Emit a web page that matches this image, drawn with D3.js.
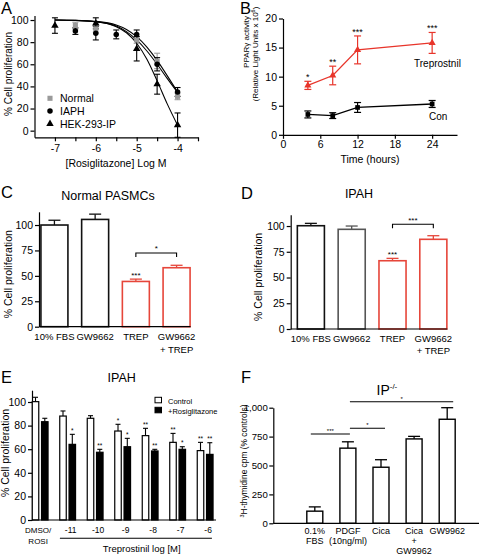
<!DOCTYPE html>
<html><head><meta charset="utf-8">
<script src="https://cdn.jsdelivr.net/npm/d3@7"></script>
<style>
body{margin:0;background:#fff}
svg{display:block}
</style></head><body>
<svg id="c" width="480" height="555"></svg>
<script>
const FONT = 'Arial, "Liberation Sans", Helvetica, sans-serif';

// ---------- Panel A ----------
const doseA = [-7, -6.5, -6, -5.5, -5, -4.5, -4];
const normalA = [null, 95, 92, null, 82, 63, 31];
const normalErrA = [null, 3, 3, null, 3, 7, 3];
const iaphA = [null, 90, 88, 87, 87, 60, 35];
const iaphErrA = [null, 3, 6, 4, 4, 6, 4];
const hekA = [95, null, 97, null, 74, 42, 5];
const hekErrA = [7, null, 5, null, 11, 9, 11];
const fitDoseA = [-7, -6.5, -6, -5.5, -5.25, -5, -4.75, -4.5, -4.25, -4];
const fitNormalA = [100, 99.7, 98.8, 95.5, 91.5, 85, 75.5, 63.5, 49.5, 35];
const fitIaphA = [100, 99.6, 98.5, 94.5, 89.5, 82, 72, 60, 47, 34.5];
const fitHekA = [100, 99.7, 98.5, 94, 88.5, 79, 64.5, 45, 24, 5];
const yTicksA = [0, 20, 40, 60, 80, 100];
const xTicksA = [-7, -6.5, -6, -5.5, -5, -4.5, -4, -3.5];
const legendA = ['Normal', 'IAPH', 'HEK-293-IP'];

// ---------- Panel B ----------
const timeB = [4, 8, 12, 24];
const trepB = [8.5, 10.2, 14.6, 15.8];
const trepErrB = [0.7, 1.6, 2.4, 1.8];
const conB = [3.5, 3.3, 4.7, 5.3];
const conErrB = [0.6, 0.5, 0.85, 0.6];
const starsB = ['*', '**', '***', '***'];
const yTicksB = [0, 5, 10, 15, 20];
const xTicksB = [0, 6, 12, 18, 24];

// ---------- Panel C ----------
const catsC = ['10% FBS', 'GW9662', 'TREP', 'GW9662 + TREP'];
const linesC = [['10% FBS'], ['GW9662'], ['TREP'], ['GW9662', '+ TREP']];
const valC = [100, 105.5, 44.5, 58];
const errC = [4.7, 5.2, 2.3, 2.4];
const yTicksC = [0, 25, 50, 75, 100];

// ---------- Panel D ----------
const catsD = ['10% FBS', 'GW9662', 'TREP', 'GW9662 + TREP'];
const linesD = [['10% FBS'], ['GW9662'], ['TREP'], ['GW9662', '+ TREP']];
const valD = [100.3, 96.8, 66.3, 87.1];
const errD = [2.3, 3.2, 2.3, 3.5];
const yTicksD = [0, 25, 50, 75, 100];

// ---------- Panel E ----------
const groupsE = ['DMSO/ROSI', '-11', '-10', '-9', '-8', '-7', '-6'];
const ctrlE = [100.3, 88.1, 86.2, 75.4, 71.5, 65.8, 58.8];
const ctrlErrE = [3.7, 4.3, 2.2, 5.7, 6.2, 7.6, 7.0];
const rosiE = [83.3, 64.1, 57.4, 62.1, 58.5, 59.9, 55.6];
const rosiErrE = [2.9, 8.5, 2.5, 7.1, 1.4, 2.2, 9.9];
const ctrlStarsE = ['', '', '', '*', '**', '**', '**'];
const rosiStarsE = ['', '*', '**', '*', '**', '*', '**'];
const yTicksE = [0, 20, 40, 60, 80, 100];

// ---------- Panel F ----------
const catsF = ['0.1% FBS', 'PDGF (10ng/ml)', 'Cica', 'Cica + GW9962', 'GW9962'];
const linesF = [['0.1%', 'FBS'], ['PDGF', '(10ng/ml)'], ['Cica'], ['Cica', '+', 'GW9962'], ['GW9962']];
const valF = [105, 650, 485, 730, 900];
const errF = [37, 55, 65, 22, 100];
const yTicksF = [0, 250, 500, 750, 1000];

const svg = d3.select('#c');

function styleAxis(g, fs) {
  g.attr('font-family', FONT).attr('font-size', fs);
  g.select('.domain').attr('stroke', '#000').attr('stroke-width', 1.2);
  g.selectAll('.tick line').attr('stroke', '#000').attr('stroke-width', 1.2);
  g.selectAll('.tick text').attr('fill', '#000');
}
function txt(x, y, s, fs, anchor) {
  return svg.append('text').attr('x', x).attr('y', y).attr('font-family', FONT)
    .attr('font-size', fs).attr('text-anchor', anchor || 'start').attr('fill', '#000').text(s);
}
function vlabel(x, y, s, fs) {
  return svg.append('text').attr('transform', `translate(${x},${y}) rotate(-90)`)
    .attr('font-family', FONT).attr('font-size', fs).attr('text-anchor', 'middle').attr('fill', '#000').text(s);
}
function errBar(g, x, y1, y2, half, color, w) {
  g.append('line').attr('x1', x).attr('x2', x).attr('y1', y1).attr('y2', y2).attr('stroke', color).attr('stroke-width', w || 1.2);
  g.append('line').attr('x1', x - half).attr('x2', x + half).attr('y1', y2).attr('y2', y2).attr('stroke', color).attr('stroke-width', w || 1.2);
}

// panel letters
[['A', 1, 13.5], ['B', 240, 13.5], ['C', 1, 198], ['D', 241, 199], ['E', 1, 383], ['F', 241, 383]]
  .forEach(([l, x, y]) => txt(x, y, l, 16.5));

// =============== A ===============
{
  const x = d3.scaleLinear().domain([-7.5, -3.5]).range([34.5, 198]);
  const y = d3.scaleLinear().domain([-6, 104]).range([137.3, 15.6]);
  const g = svg.append('g');
  styleAxis(g.append('g').attr('transform', 'translate(34.5,0)')
    .call(d3.axisLeft(y).tickValues(yTicksA).tickSize(4).tickSizeOuter(0).tickPadding(2)), 10.5);
  styleAxis(g.append('g').attr('transform', 'translate(0,137.3)')
    .call(d3.axisBottom(x).tickValues(xTicksA).tickSize(4).tickSizeOuter(0).tickPadding(3)
      .tickFormat(d => Number.isInteger(d) ? String(d) : '')), 10.5);
  const line = d3.line().x(d => x(d[0])).y(d => y(d[1])).curve(d3.curveMonotoneX);
  [fitNormalA, fitIaphA, fitHekA].forEach(arr => {
    g.append('path').attr('d', line(fitDoseA.map((d, i) => [d, arr[i]])))
      .attr('fill', 'none').attr('stroke', '#000').attr('stroke-width', 1.1);
  });
  const series = [
    {v: normalA, e: normalErrA, c: '#9a9a9a', s: d3.symbolSquare, size: 26},
    {v: iaphA, e: iaphErrA, c: '#000', s: d3.symbolCircle, size: 24},
    {v: hekA, e: hekErrA, c: '#000', s: d3.symbolTriangle, size: 24}
  ];
  series.forEach(sr => {
    doseA.forEach((d, i) => {
      if (sr.v[i] == null) return;
      errBar(g, x(d), y(sr.v[i] - sr.e[i]), y(sr.v[i] + sr.e[i]), 3, sr.c, 1.1);
      g.append('line').attr('x1', x(d) - 3).attr('x2', x(d) + 3)
        .attr('y1', y(sr.v[i] - sr.e[i])).attr('y2', y(sr.v[i] - sr.e[i])).attr('stroke', sr.c).attr('stroke-width', 1.1);
    });
  });
  series.forEach(sr => {
    doseA.forEach((d, i) => {
      if (sr.v[i] == null) return;
      g.append('path').attr('d', d3.symbol(sr.s, sr.size)())
        .attr('transform', `translate(${x(d)},${y(sr.v[i])})`).attr('fill', sr.c);
    });
  });
  series.forEach((sr, i) => {
    const ly = 98.3 + i * 12.8;
    g.append('path').attr('d', d3.symbol(sr.s, sr.size)()).attr('transform', `translate(50,${ly})`).attr('fill', sr.c);
    txt(60, ly + 3.8, legendA[i], 10.5);
  });
  vlabel(11.5, 74, '% Cell proliferation', 10);
  txt(116, 167, '[Rosiglitazone] Log M', 10.5, 'middle');
}

// =============== B ===============
{
  const x = d3.scaleLinear().domain([0, 28]).range([283, 457]);
  const y = d3.scaleLinear().domain([0, 20]).range([134.8, 18.5]);
  const g = svg.append('g');
  styleAxis(g.append('g').attr('transform', 'translate(283,0)')
    .call(d3.axisLeft(y).tickValues(yTicksB).tickSize(4).tickSizeOuter(0).tickPadding(2)), 10.5);
  styleAxis(g.append('g').attr('transform', 'translate(0,134.8)')
    .call(d3.axisBottom(x).tickValues(xTicksB).tickSize(4).tickSizeOuter(0).tickPadding(2)), 10.5);
  const red = '#e8352b';
  const line = d3.line().x(d => x(d[0])).y(d => y(d[1]));
  [[trepB, trepErrB, red, d3.symbolTriangle], [conB, conErrB, '#000', d3.symbolSquare]].forEach(([v, e, c, s]) => {
    g.append('path').attr('d', line(timeB.map((t, i) => [t, v[i]]))).attr('fill', 'none').attr('stroke', c).attr('stroke-width', 1.3);
    timeB.forEach((t, i) => {
      errBar(g, x(t), y(v[i] - e[i]), y(v[i] + e[i]), 3.5, c, 1.2);
      g.append('line').attr('x1', x(t) - 3.5).attr('x2', x(t) + 3.5).attr('y1', y(v[i] - e[i])).attr('y2', y(v[i] - e[i])).attr('stroke', c).attr('stroke-width', 1.2);
      g.append('path').attr('d', d3.symbol(s, 22)()).attr('transform', `translate(${x(t)},${y(v[i])})`).attr('fill', c);
    });
  });
  timeB.forEach((t, i) => txt(x(t), y(trepB[i] + trepErrB[i]) - 1, starsB[i], 9, 'middle'));
  txt(414, 66.5, 'Treprostnil', 10);
  txt(429, 119.5, 'Con', 10);
  txt(370, 163, 'Time (hours)', 10.5, 'middle');
  vlabel(248.5, 42, 'PPARγ activity', 8);
  const t2 = svg.append('text').attr('transform', 'translate(257.5,54) rotate(-90)')
    .attr('font-family', FONT).attr('font-size', 8).attr('text-anchor', 'middle').attr('fill', '#000');
  t2.append('tspan').text('(Relative Light Units x 10');
  t2.append('tspan').attr('dy', -3).attr('font-size', 5.5).text('6');
  t2.append('tspan').attr('dy', 3).text(')');
}

// =============== C & D ===============
function barPanel(cfg) {
  const x = d3.scaleBand().domain(cfg.cats).range(cfg.xr).paddingInner(0.337).paddingOuter(0.17);
  const y = d3.scaleLinear().domain(cfg.yd).range(cfg.yr);
  const g = svg.append('g');
  styleAxis(g.append('g').attr('transform', `translate(${cfg.ax},0)`)
    .call(d3.axisLeft(y).tickValues(cfg.ticks).tickSize(4).tickSizeOuter(0).tickPadding(2)), 10.5);
  cfg.cats.forEach((c, i) => {
    const cx = x(c) + x.bandwidth() / 2;
    errBar(g, cx, y(cfg.val[i]), y(cfg.val[i] + cfg.err[i]), 6, cfg.stroke[i], 1.3);
    g.append('rect').attr('x', x(c)).attr('y', y(cfg.val[i])).attr('width', x.bandwidth())
      .attr('height', y(0) - y(cfg.val[i])).attr('fill', '#fff').attr('stroke', cfg.stroke[i]).attr('stroke-width', 1.6);
    cfg.lines[i].forEach((l, j) => txt(cx, cfg.ly + j * 12.5, l, 9.5, 'middle'));
  });
  g.append('line').attr('x1', cfg.ax).attr('x2', x(cfg.cats[3]) + x.bandwidth() + 0.5)
    .attr('y1', y(0)).attr('y2', y(0)).attr('stroke', '#000').attr('stroke-width', 1.2);
  const c2 = x(cfg.cats[2]) + x.bandwidth() / 2, c3 = x(cfg.cats[3]) + x.bandwidth() / 2;
  txt(c2, y(cfg.val[2] + cfg.err[2]) - 1, '***', 8, 'middle');
  const by = y(cfg.bracket);
  g.append('path').attr('d', `M${c2},${by + 4}V${by}H${c3}V${by + 4}`).attr('fill', 'none').attr('stroke', '#000').attr('stroke-width', 1.1);
  txt((c2 + c3) / 2, by - 1.5, cfg.bstar, 8, 'middle');
  txt(cfg.tx, cfg.ty, cfg.title, 12.5, 'middle');
  vlabel(cfg.vlx, (cfg.yr[0] + cfg.yr[1]) / 2 + 5, '% Cell proliferation', 10.5);
}
const red = '#e6463a';
barPanel({cats: catsC, lines: linesC, val: valC, err: errC, ticks: yTicksC, xr: [34, 197], ax: 39,
  yd: [0, 113], yr: [326.7, 211.8], stroke: ['#111', '#111', red, red], ly: 340, bracket: 72.5, bstar: '*',
  title: 'Normal PASMCs', tx: 108, ty: 200, vlx: 12});
barPanel({cats: catsD, lines: linesD, val: valD, err: errD, ticks: yTicksD, xr: [290.4, 453.8], ax: 290.7,
  yd: [0, 111], yr: [329, 214.7], stroke: ['#111', '#555', red, red], ly: 341.5, bracket: 101.7, bstar: '***',
  title: 'IPAH', tx: 359, ty: 198, vlx: 262});

// =============== E ===============
{
  const x0 = d3.scaleBand().domain(groupsE).range([26.4, 218.9]);
  const x1 = d3.scaleBand().domain(['c', 'r']).range([5.85, 21.65]).paddingInner(0.3);
  const y = d3.scaleLinear().domain([0, 110]).range([520, 390.2]);
  const g = svg.append('g');
  styleAxis(g.append('g').attr('transform', 'translate(32,0)')
    .call(d3.axisLeft(y).tickValues(yTicksE).tickSize(4).tickSizeOuter(0).tickPadding(2)), 10.5);
  groupsE.forEach((gr, i) => {
    [['c', ctrlE, ctrlErrE, ctrlStarsE, '#fff'], ['r', rosiE, rosiErrE, rosiStarsE, '#000']].forEach(([k, v, e, st, fill]) => {
      const bx = x0(gr) + x1(k), cx = bx + x1.bandwidth() / 2;
      errBar(g, cx, y(v[i]), y(v[i] + e[i]), 2.5, '#000', 1.1);
      g.append('rect').attr('x', bx).attr('y', y(v[i])).attr('width', x1.bandwidth()).attr('height', y(0) - y(v[i]))
        .attr('fill', fill).attr('stroke', '#000').attr('stroke-width', 1.2);
      if (st[i]) txt(cx, y(v[i] + e[i]) - 1.5, st[i], 6.5, 'middle');
    });
    const gc = x0(gr) + x0.bandwidth() / 2;
    if (i === 0) { txt(gc - 2, 533, 'DMSO/', 8, 'middle'); txt(gc - 2, 544, 'ROSI', 8, 'middle'); }
    else txt(gc + 3, 533, gr, 8.5, 'middle');
  });
  g.append('line').attr('x1', 32).attr('x2', 216).attr('y1', 520).attr('y2', 520).attr('stroke', '#000').attr('stroke-width', 1.2);
  g.append('line').attr('x1', x0(groupsE[1]) + 6).attr('x2', x0(groupsE[6]) + x0.bandwidth() - 7)
    .attr('y1', 538.3).attr('y2', 538.3).attr('stroke', '#000').attr('stroke-width', 1.1);
  txt(141.7, 552, 'Treprostinil log [M]', 9.5, 'middle');
  txt(121.7, 381.5, 'IPAH', 12.5, 'middle');
  vlabel(9, 453, '% Cell proliferation', 10.5);
  g.append('rect').attr('x', 155).attr('y', 397.3).attr('width', 6.5).attr('height', 5.5).attr('fill', '#fff').attr('stroke', '#000').attr('stroke-width', 1);
  g.append('rect').attr('x', 155).attr('y', 407.3).attr('width', 6.5).attr('height', 5.5).attr('fill', '#000').attr('stroke', '#000').attr('stroke-width', 1);
  txt(168, 403.5, 'Control', 7.5);
  txt(168, 413.5, '+Rosiglitazone', 7.5);
}

// =============== F ===============
{
  const x = d3.scaleBand().domain(catsF).range([290, 472]).paddingInner(0.517).paddingOuter(0.508);
  const y = d3.scaleLinear().domain([0, 1000]).range([523.3, 407.7]);
  const g = svg.append('g');
  styleAxis(g.append('g').attr('transform', 'translate(273.3,0)')
    .call(d3.axisLeft(y).tickValues(yTicksF).tickSize(4).tickSizeOuter(0).tickPadding(1.5)), 9.6);
  catsF.forEach((c, i) => {
    const cx = x(c) + x.bandwidth() / 2;
    errBar(g, cx, y(valF[i]), y(valF[i] + errF[i]), 6, '#000', 1.3);
    g.append('rect').attr('x', x(c)).attr('y', y(valF[i])).attr('width', x.bandwidth()).attr('height', y(0) - y(valF[i]))
      .attr('fill', '#fff').attr('stroke', '#000').attr('stroke-width', 1.4);
    linesF[i].forEach((l, j) => txt(cx, 533.5 + j * 10.2, l, 9, 'middle'));
  });
  g.append('line').attr('x1', 273.3).attr('x2', 479).attr('y1', 523.3).attr('y2', 523.3).attr('stroke', '#000').attr('stroke-width', 1.2);
  const cen = i => x(catsF[i]) + x.bandwidth() / 2;
  const sig = [[0, 1, 772, '***', -4, 2], [1, 2, 822, '*', 2, 4], [1, 4, 1052, '*', 2, 6]];
  sig.forEach(([a, b, v, s, oa, ob]) => {
    const x1 = cen(a) + oa, x2 = cen(b) + ob;
    g.append('line').attr('x1', x1).attr('x2', x2).attr('y1', y(v)).attr('y2', y(v)).attr('stroke', '#000').attr('stroke-width', 1.1);
    txt((x1 + x2) / 2, y(v) - 1, s, 6, 'middle');
  });
  const tt = txt(376.5, 395, 'IP', 14);
  tt.append('tspan').attr('dy', -6).attr('font-size', 8).text('-/-');
  const yl = svg.append('text').attr('transform', 'translate(246.5,461) rotate(-90)')
    .attr('font-family', FONT).attr('font-size', 8.4).attr('text-anchor', 'middle').attr('fill', '#000');
  yl.append('tspan').attr('dy', -3).attr('font-size', 5.5).text('3');
  yl.append('tspan').attr('dy', 3).text('H-thymidine cpm (% controls)');
}
</script>
</body></html>
